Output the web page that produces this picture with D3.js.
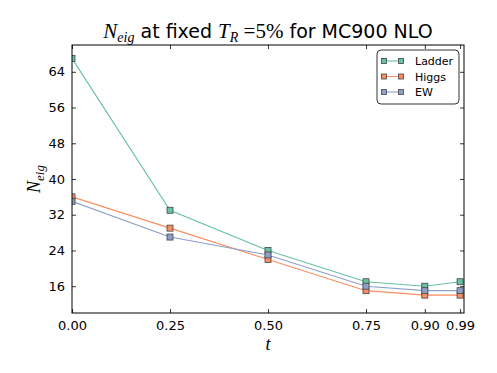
<!DOCTYPE html>
<html>
<head>
<meta charset="utf-8">
<script src="https://cdn.jsdelivr.net/npm/d3@7"></script>
<style>
  body { margin: 0; background: #fff; }
  svg text { font-family: "DejaVu Sans", sans-serif; }
  .math { font-family: "Liberation Serif", "DejaVu Serif", serif; font-style: italic; }
</style>
</head>
<body>
<div id="chart"></div>
<script>
'use strict';

// data
const tValues = [0.0, 0.25, 0.5, 0.75, 0.90, 0.99];
const xTickLabels = ['0.00', '0.25', '0.50', '0.75', '0.90', '0.99'];
const yTicks = [16, 24, 32, 40, 48, 56, 64];
const seriesNames = ['Ladder', 'Higgs', 'EW'];
const ladder = [67, 33, 24, 17, 16, 17];
const higgs = [36, 29, 22, 15, 14, 14];
const ew = [35, 27, 23, 16, 15, 15];
const colors = ['#66c2a5', '#fc8d62', '#8da0cb'];

const width = 497, height = 373;
const margin = {top: 45, right: 33, bottom: 60, left: 72};
const plotW = width - margin.left - margin.right,
      plotH = height - margin.top - margin.bottom;

const svg = d3.select('#chart')
              .append('svg')
              .attr('width', width)
              .attr('height', height);

const x = d3.scaleLinear().domain([0, 1.0]).range([0, plotW]);
const y = d3.scaleLinear().domain([10, 70]).range([plotH, 0]);

const g = svg.append('g')
             .attr('transform', 'translate(' + margin.left + ',' + margin.top + ')');

g.append('clipPath')
 .attr('id', 'plot-clip')
 .append('rect')
 .attr('width', plotW)
 .attr('height', plotH);

// axes, ticks pointing inward on all sides
const tickLen = 4;
g.append('g')
 .attr('transform', 'translate(0,' + plotH + ')')
 .call(d3.axisBottom(x).tickValues(tValues)
         .tickFormat(function(d, i) { return xTickLabels[i]; })
         .tickSizeInner(-tickLen).tickSizeOuter(0).tickPadding(8));
g.append('g')
 .call(d3.axisTop(x).tickValues(tValues).tickFormat('')
         .tickSizeInner(-tickLen).tickSizeOuter(0));
g.append('g')
 .call(d3.axisLeft(y).tickValues(yTicks)
         .tickSizeInner(-tickLen).tickSizeOuter(0).tickPadding(7));
g.append('g')
 .attr('transform', 'translate(' + plotW + ',0)')
 .call(d3.axisRight(y).tickValues(yTicks).tickFormat('')
         .tickSizeInner(-tickLen).tickSizeOuter(0));

g.selectAll('.domain').remove();
g.selectAll('.tick line').attr('stroke', '#000').attr('stroke-width', 0.8);
g.selectAll('.tick text').attr('font-size', 13).attr('fill', '#000')
 .style('font-family', '"DejaVu Sans", sans-serif');

const series = [ladder, higgs, ew];
const line = d3.line()
               .x(function(d, i) { return x(tValues[i]); })
               .y(function(d) { return y(d); });

const plot = g.append('g').attr('clip-path', 'url(#plot-clip)');
const ms = 6;
for (let s = 0; s < series.length; s++) {
    plot.append('path')
        .datum(series[s])
        .attr('d', line)
        .attr('fill', 'none')
        .attr('stroke', colors[s])
        .attr('stroke-width', 1.1);
}
for (let s = 0; s < series.length; s++) {
    plot.selectAll('.m' + s)
        .data(series[s])
        .enter()
        .append('rect')
        .attr('x', function(d, i) { return x(tValues[i]) - ms / 2; })
        .attr('y', function(d) { return y(d) - ms / 2; })
        .attr('width', ms)
        .attr('height', ms)
        .attr('fill', colors[s])
        .attr('stroke', '#444')
        .attr('stroke-width', 0.8);
}

g.append('rect')
 .attr('width', plotW)
 .attr('height', plotH)
 .attr('fill', 'none')
 .attr('stroke', '#000')
 .attr('stroke-width', 1);

// legend
const legend = g.append('g').attr('transform', 'translate(' + (plotW - 87) + ',5)');
legend.append('rect')
      .attr('width', 82)
      .attr('height', 54)
      .attr('rx', 4)
      .attr('fill', '#fff')
      .attr('stroke', '#000')
      .attr('stroke-width', 0.8);
for (let s = 0; s < seriesNames.length; s++) {
    let ly = 11 + s * 15.5;
    legend.append('line')
          .attr('x1', 7).attr('x2', 24)
          .attr('y1', ly).attr('y2', ly)
          .attr('stroke', colors[s]).attr('stroke-width', 1.1);
    [7, 24].forEach(function(lx) {
        legend.append('rect')
              .attr('x', lx - 2.5).attr('y', ly - 2.5)
              .attr('width', 5).attr('height', 5)
              .attr('fill', colors[s])
              .attr('stroke', '#444').attr('stroke-width', 0.8);
    });
    legend.append('text')
          .attr('x', 38).attr('y', ly + 4)
          .attr('font-size', 11)
          .text(seriesNames[s]);
}

// title
const title = svg.append('text')
                 .attr('x', margin.left + plotW / 2)
                 .attr('y', 38)
                 .attr('text-anchor', 'middle')
                 .attr('font-size', 19);
title.append('tspan').attr('class', 'math').attr('font-size', 21).text('N');
title.append('tspan').attr('class', 'math').attr('font-size', 14).attr('dy', 4).text('eig');
title.append('tspan').attr('dy', -4).text(' at fixed ');
title.append('tspan').attr('class', 'math').attr('font-size', 21).text('T');
title.append('tspan').attr('class', 'math').attr('font-size', 14).attr('dy', 4).text('R');
title.append('tspan').attr('dy', -4).attr('font-size', 21)
     .style('font-family', '"Liberation Serif", serif').text(' =5%');
title.append('tspan').text(' for MC900 NLO');

// axis labels
svg.append('text')
   .attr('class', 'math')
   .attr('x', margin.left + plotW / 2)
   .attr('y', 350)
   .attr('text-anchor', 'middle')
   .attr('font-size', 18)
   .text('t');

const ylab = svg.append('text')
                .attr('transform', 'translate(40,' + (margin.top + plotH / 2) + ') rotate(-90)')
                .attr('text-anchor', 'middle')
                .attr('class', 'math')
                .attr('font-size', 18);
ylab.append('tspan').text('N');
ylab.append('tspan').attr('font-size', 13).attr('dy', 4).text('eig');
</script>
</body>
</html>
